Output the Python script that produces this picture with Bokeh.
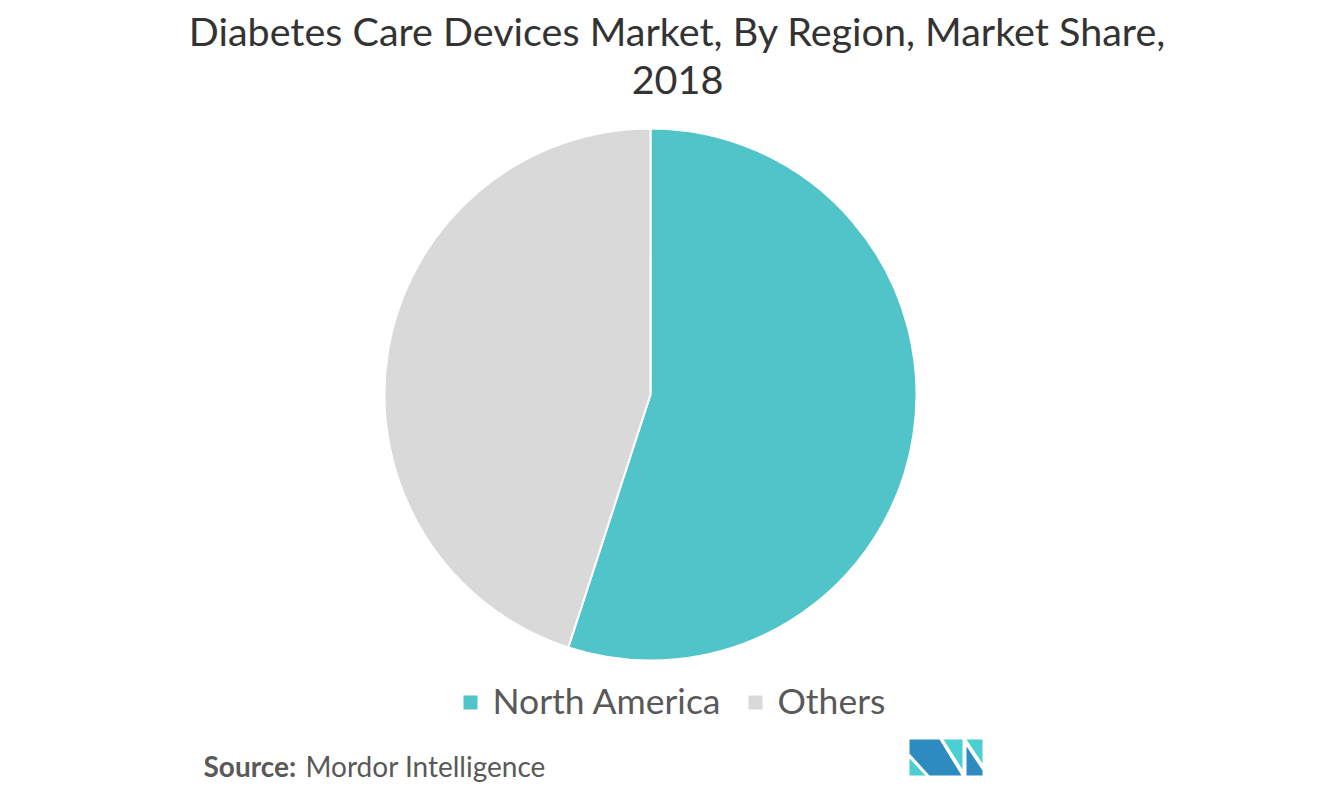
import numpy as np
from bokeh.plotting import figure
from bokeh.models import Range1d, ColumnDataSource
from bokeh.core.properties import value
from bokeh.embed import file_html
from bokeh.resources import INLINE

# ---- data ----
regions = ["North America", "Others"]
shares = [55, 45]
colors = ["#51C4C9", "#D9D9D9"]
title_lines = ["Diabetes Care Devices Market, By Region, Market Share,", "2018"]
source_label = "Source:"
source_name = "Mordor Intelligence"

W, H = 1305, 787
p = figure(width=W, height=H, x_range=Range1d(0, W), y_range=Range1d(0, H),
           output_backend="svg", toolbar_location=None, min_border=0)
p.axis.visible = False
p.grid.visible = False
p.outline_line_color = None
p.background_fill_color = "white"

def Y(py):
    return H - py

# pie (clockwise from top)
cx, cy, r = 650, Y(394), 266
fr = np.array(shares, dtype=float) / sum(shares)
cum = np.concatenate([[0], np.cumsum(fr)])
start = np.pi / 2 - cum[:-1] * 2 * np.pi
end = np.pi / 2 - cum[1:] * 2 * np.pi
src = ColumnDataSource(dict(start=start, end=end, color=colors, name=regions))
p.wedge(x=cx, y=cy, radius=r, start_angle="start", end_angle="end",
        direction="clock", fill_color="color", line_color="white", line_width=2, source=src)

# title
font = value("Lato")
p.text(x=[677, 677], y=[Y(30), Y(79)], text=title_lines, text_align="center",
       text_baseline="alphabetic", text_font=font, text_font_size="39.5px", text_color="#333333")

# legend
leg_x = [470, 755]
lsrc = ColumnDataSource(dict(x=leg_x, tx=[x + 22 for x in leg_x], y=[Y(702)] * 2, ty=[Y(700)] * 2,
                             color=colors, name=regions))
p.scatter(x="x", y="y", marker="square", size=14, fill_color="color", line_color=None, source=lsrc)
p.text(x="tx", y="ty", text="name", text_font=font, text_font_size="35.5px", text_color="#595959",
       text_baseline="alphabetic", source=lsrc)

# source
p.text(x=[203], y=[Y(765)], text=[source_label], text_font=font, text_font_style="bold",
       text_font_size="28px", text_color="#595959", text_baseline="alphabetic")
p.text(x=[305], y=[Y(765)], text=[source_name], text_font=font,
       text_font_size="28px", text_color="#595959", text_baseline="alphabetic")

# logo (page px -> data)
def P(pts):
    return [q[0] for q in pts], [Y(q[1]) for q in pts]

dark, teal = "#2E8BC0", "#4CCFD0"
shapes = [
    ([(909, 758), (909, 775), (925, 775)], teal),
    ([(909, 739), (939, 739), (961, 775), (929, 775), (909, 753)], dark),
    ([(943, 739), (962, 739), (962, 769)], teal),
    ([(966, 739), (982, 739), (982, 763)], teal),
    ([(966, 746), (982, 770), (982, 775), (966, 775)], dark),
]
for pts, c in shapes:
    xs, ys = P(pts)
    p.patch(xs, ys, fill_color=c, line_color=None)

open("out.html", "w").write(file_html(p, INLINE))
